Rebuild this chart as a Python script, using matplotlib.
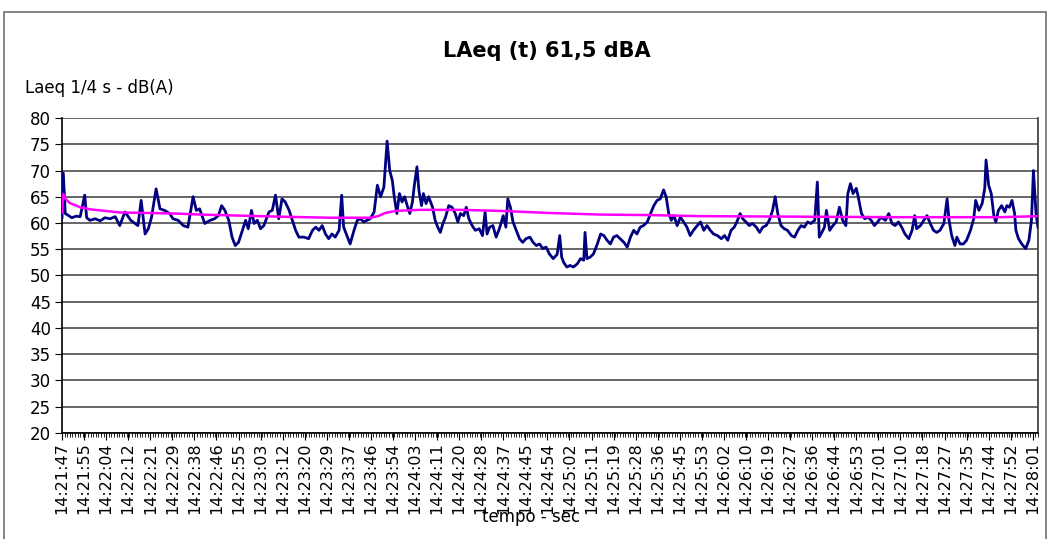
import numpy as np
import matplotlib
matplotlib.use("Agg")
import matplotlib.pyplot as plt
from matplotlib.patches import Rectangle
from matplotlib.ticker import MultipleLocator

# LAeq 1/4 s readings (sample index at 4 samples/s, dB(A))
sample = [0, 2, 5, 9, 15, 22, 28, 35, 38, 43, 51, 59, 66, 74, 82, 89, 97, 106, 117, 122,
          128, 133, 138, 145, 151, 158, 166, 171, 179, 187, 194, 202, 207, 212, 220, 228, 235, 241, 246, 251,
          257, 262, 267, 272, 278, 283, 287, 292, 296, 301, 306, 311, 319, 324, 329, 334, 339, 344, 350, 355,
          360, 365, 373, 380, 386, 391, 396, 401, 406, 411, 416, 421, 427, 431, 434, 440, 444, 450, 455, 460,
          465, 470, 475, 481, 486, 491, 496, 501, 505, 509, 512, 516, 520, 524, 528, 532, 536, 540, 543, 547,
          550, 554, 557, 561, 565, 571, 575, 579, 583, 587, 591, 596, 601, 606, 610, 614, 619, 623, 627, 632,
          637, 643, 648, 652, 655, 659, 664, 669, 674, 680, 684, 687, 691, 695, 700, 705, 710, 715, 721, 726,
          731, 736, 741, 746, 751, 757, 763, 767, 770, 773, 778, 783, 788, 794, 799, 804, 806, 809, 814, 819,
          825, 830, 835, 840, 845, 850, 855, 860, 866, 871, 876, 881, 886, 891, 896, 902, 907, 912, 917, 922,
          927, 931, 935, 939, 943, 948, 953, 958, 963, 968, 973, 979, 984, 989, 994, 999, 1004, 1010, 1016, 1021,
          1026, 1031, 1036, 1041, 1045, 1049, 1054, 1059, 1064, 1070, 1075, 1080, 1085, 1090, 1095, 1099, 1103, 1108, 1113, 1118,
          1124, 1129, 1134, 1139, 1144, 1149, 1154, 1160, 1164, 1167, 1171, 1175, 1178, 1183, 1188, 1193, 1198, 1203, 1208, 1211,
          1215, 1219, 1224, 1227, 1232, 1237, 1242, 1247, 1252, 1257, 1262, 1269, 1274, 1279, 1284, 1289, 1294, 1299, 1305, 1310,
          1314, 1317, 1323, 1328, 1333, 1338, 1343, 1348, 1353, 1359, 1364, 1367, 1371, 1376, 1379, 1384, 1389, 1394, 1400, 1405,
          1408, 1413, 1418, 1422, 1424, 1428, 1432, 1436, 1439, 1443, 1448, 1453, 1456, 1460, 1464, 1468, 1470, 1474, 1479, 1485,
          1490, 1494, 1497, 1501, 1504]
laeq = [61.0, 69.5, 61.8, 61.5, 61.0, 61.3, 61.2, 65.3, 61.0, 60.5, 60.8, 60.4, 61.0, 60.8, 61.2, 59.5, 62.1, 60.5, 59.5, 64.3,
        57.9, 58.9, 61.1, 66.5, 62.7, 62.4, 61.8, 60.8, 60.5, 59.5, 59.2, 65.0, 62.4, 62.7, 59.9, 60.5, 60.8, 61.4, 63.3, 62.4,
        60.5, 57.3, 55.7, 56.3, 58.6, 60.5, 58.9, 62.4, 59.9, 60.5, 58.9, 59.5, 62.1, 62.4, 65.3, 60.8, 64.6, 64.0, 62.4, 60.5,
        58.6, 57.3, 57.3, 57.0, 58.6, 59.2, 58.6, 59.5, 57.9, 57.0, 57.9, 57.3, 58.6, 65.3, 59.2, 57.3, 56.0, 58.6, 60.5, 60.8,
        60.2, 60.5, 60.8, 62.1, 67.2, 65.0, 66.8, 75.6, 70.0, 68.1, 65.0, 61.8, 65.6, 64.0, 65.0, 63.3, 61.8, 64.0, 67.2, 70.7,
        66.2, 63.3, 65.6, 63.7, 65.0, 63.0, 60.5, 59.2, 58.2, 59.9, 61.1, 63.3, 63.0, 61.8, 60.2, 61.8, 61.4, 63.0, 60.8, 59.5,
        58.6, 58.9, 57.6, 62.1, 57.9, 59.2, 59.5, 57.3, 58.9, 61.4, 59.2, 64.6, 63.0, 60.2, 58.6, 57.0, 56.3, 57.0, 57.3, 56.3,
        55.7, 56.0, 55.1, 55.4, 54.1, 53.2, 54.0, 57.6, 53.5, 52.5, 51.6, 51.9, 51.6, 52.2, 53.2, 52.9, 58.2, 53.2, 53.5, 54.1,
        56.0, 57.9, 57.6, 56.7, 56.0, 57.3, 57.6, 57.0, 56.3, 55.4, 57.3, 58.6, 57.9, 59.2, 59.5, 60.2, 61.8, 63.3, 64.3, 64.6,
        66.3, 65.0, 61.8, 60.5, 61.4, 59.5, 61.1, 60.2, 59.2, 57.6, 58.6, 59.5, 60.2, 58.6, 59.5, 58.6, 57.9, 57.6, 57.0, 57.6,
        56.7, 58.6, 59.2, 60.5, 61.8, 60.8, 60.2, 59.5, 59.9, 59.2, 58.2, 59.2, 59.5, 60.5, 62.4, 65.0, 61.8, 59.5, 58.9, 58.6,
        57.6, 57.3, 58.6, 59.5, 59.2, 60.2, 59.9, 60.5, 67.8, 57.3, 58.2, 59.2, 62.4, 58.6, 59.5, 60.2, 63.0, 60.5, 59.5, 65.6,
        67.5, 65.6, 66.6, 65.0, 61.8, 60.8, 61.1, 60.5, 59.5, 60.2, 61.1, 60.5, 61.8, 59.9, 59.5, 60.2, 59.2, 57.9, 57.0, 58.6,
        61.4, 58.9, 59.5, 60.5, 61.4, 59.9, 58.6, 58.2, 58.6, 59.9, 64.6, 60.5, 57.6, 55.7, 57.3, 56.0, 56.0, 56.7, 58.6, 60.8,
        64.3, 62.4, 63.7, 66.6, 72.0, 67.2, 65.6, 61.4, 60.2, 62.4, 63.3, 62.1, 63.3, 63.0, 64.3, 61.8, 58.6, 57.0, 56.0, 55.1,
        56.7, 60.5, 70.0, 61.8, 59.2]

# running LAeq (magenta)
avg_sample = [0, 2, 6, 12, 28, 43, 59, 89, 136, 174, 213, 274, 336, 413, 475, 487, 498, 514, 552, 614,
              675, 752, 830, 907, 984, 1138, 1292, 1446, 1504]
avg_laeq = [62.0, 65.5, 64.5, 63.8, 63.0, 62.6, 62.4, 62.0, 61.9, 61.8, 61.6, 61.4, 61.2, 61.0, 61.0, 61.3, 61.9, 62.3, 62.5, 62.5,
            62.3, 61.9, 61.6, 61.5, 61.3, 61.2, 61.1, 61.1, 61.3]

time_labels = ["14:21:47", "14:21:55", "14:22:04", "14:22:12", "14:22:21", "14:22:29", "14:22:38", "14:22:46",
               "14:22:55", "14:23:03", "14:23:12", "14:23:20", "14:23:29", "14:23:37", "14:23:46", "14:23:54",
               "14:24:03", "14:24:11", "14:24:20", "14:24:28", "14:24:37", "14:24:45", "14:24:54", "14:25:02",
               "14:25:11", "14:25:19", "14:25:28", "14:25:36", "14:25:45", "14:25:53", "14:26:02", "14:26:10",
               "14:26:19", "14:26:27", "14:26:36", "14:26:44", "14:26:53", "14:27:01", "14:27:10", "14:27:18",
               "14:27:27", "14:27:35", "14:27:44", "14:27:52", "14:28:01"]
label_step = 34  # one label every 34 samples (8.5 s)

plt.rcParams['font.family'] = ['DejaVu Sans']

fig = plt.figure(figsize=(10.51, 5.39), dpi=100)
ax = fig.add_axes([0.059, 0.197, 0.9286, 0.584])

ax.plot(sample, laeq, color='#000080', lw=2.0, zorder=3)
ax.plot(avg_sample, avg_laeq, color='#FF00FF', lw=1.8, zorder=4)

ax.set_xlim(0, sample[-1])
ax.set_ylim(20, 80)
ax.set_yticks(np.arange(20, 81, 5))
ax.yaxis.grid(True, color='#5a5a5a', lw=1.3)
ax.set_axisbelow(True)

ax.set_xticks(np.arange(len(time_labels)) * label_step)
ax.set_xticklabels(time_labels, rotation=90, fontsize=11.5)
ax.xaxis.set_minor_locator(MultipleLocator(4))
ax.tick_params(axis='x', which='major', length=5, width=0.8, pad=2)
ax.tick_params(axis='x', which='minor', length=3, width=0.6)
ax.tick_params(axis='y', labelsize=12, length=5, width=0.8, pad=3)

for s in ['left', 'bottom']:
    ax.spines[s].set_color('black')
    ax.spines[s].set_linewidth(1.2)
ax.spines['top'].set_visible(False)
ax.spines['right'].set_color('#444444')
ax.spines['right'].set_linewidth(1.3)

fig.text(0.52, 0.905, "LAeq (t) 61,5 dBA", ha='center', va='center', fontsize=15, fontweight='bold')
fig.text(0.024, 0.837, "Laeq 1/4 s - dB(A)", ha='left', va='center', fontsize=12)
fig.text(0.505, 0.04, "tempo - sec", ha='center', va='center', fontsize=12)

fig.patches.append(Rectangle((0.004, -0.01), 0.991, 0.988, transform=fig.transFigure,
                             fill=False, edgecolor='#707070', lw=1.2))

fig.savefig("out.png", dpi=100)
